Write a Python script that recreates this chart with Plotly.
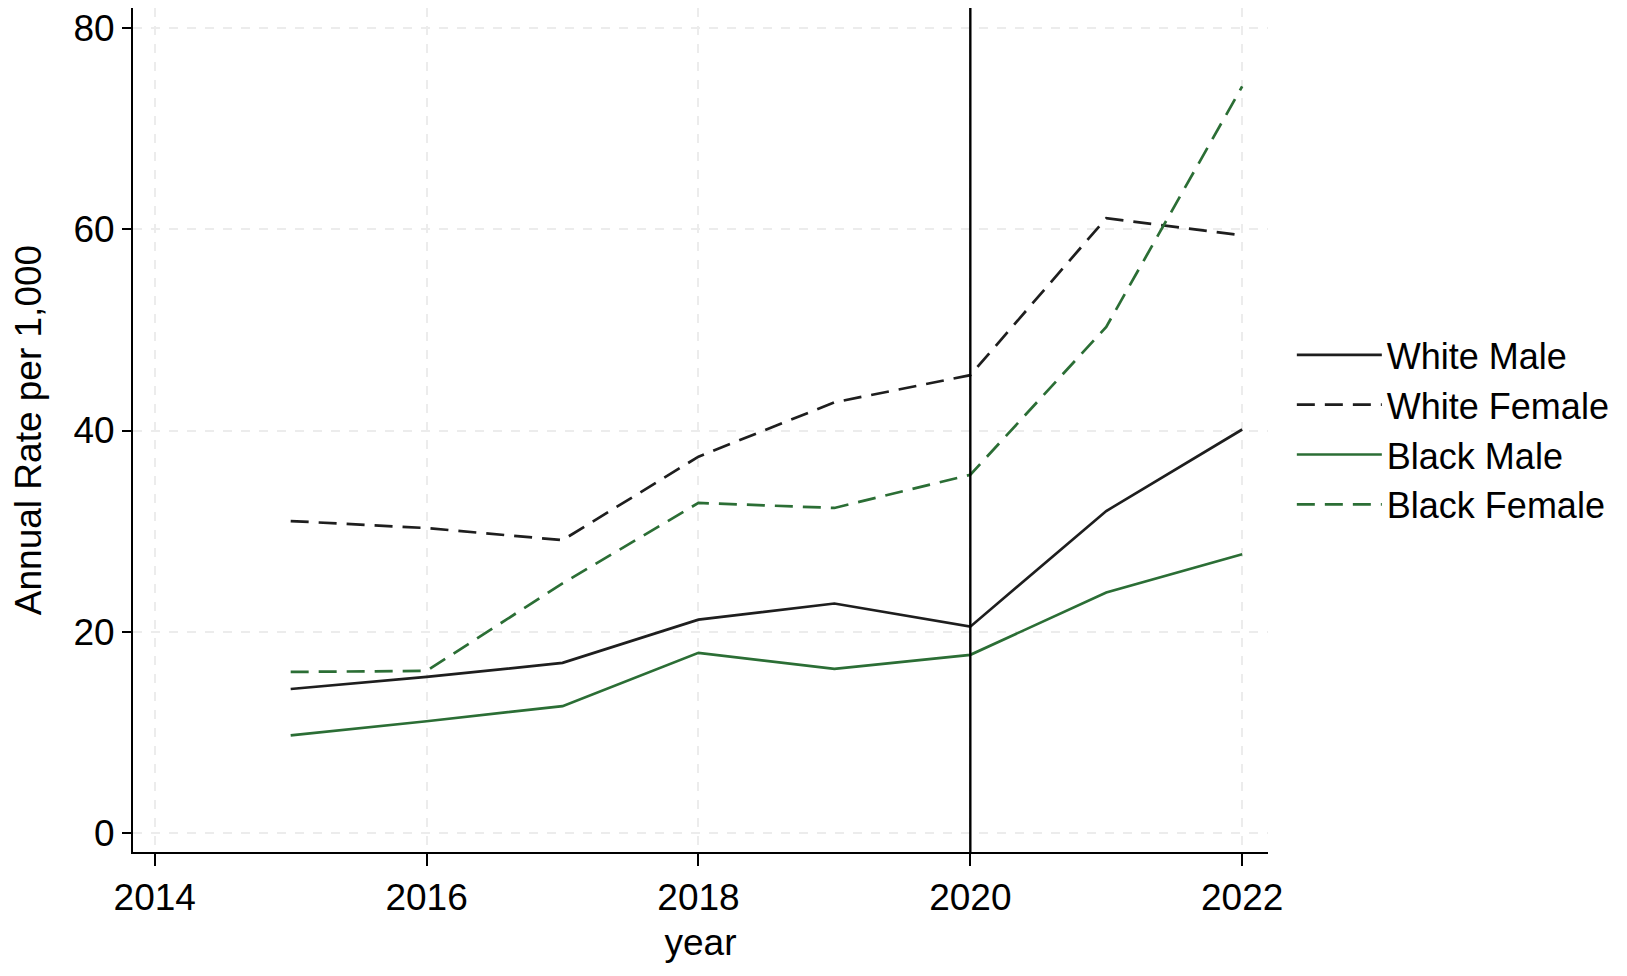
import plotly.graph_objects as go

# data
years = [2015, 2016, 2017, 2018, 2019, 2020, 2021, 2022]

white_male = [14.3, 15.5, 16.9, 21.2, 22.8, 20.5, 32.0, 40.1]
white_female = [31.0, 30.3, 29.1, 37.4, 42.8, 45.5, 61.1, 59.4]
black_male = [9.7, 11.1, 12.6, 17.9, 16.3, 17.7, 23.9, 27.7]
black_female = [16.0, 16.1, 24.8, 32.8, 32.3, 35.6, 50.3, 74.2]

series_names = ["White Male", "White Female", "Black Male", "Black Female"]
x_ticks = [2014, 2016, 2018, 2020, 2022]
y_ticks = [0, 20, 40, 60, 80]
policy_year = 2020

black = "#1e1e1e"
green = "#2b6e35"
styles = [
    dict(color=black, dash="solid"),
    dict(color=black, dash="18px,10px"),
    dict(color=green, dash="solid"),
    dict(color=green, dash="18px,10px"),
]

fig = go.Figure()
for name, vals, st in zip(series_names,
                          [white_male, white_female, black_male, black_female],
                          styles):
    fig.add_trace(go.Scatter(
        x=years, y=vals, name=name, mode="lines",
        line=dict(color=st["color"], dash=st["dash"], width=2.7),
    ))

fig.add_vline(x=policy_year, line=dict(color="black", width=2.4))

axis_common = dict(
    showline=True, linecolor="black", linewidth=2,
    ticks="outside", tickcolor="black", tickwidth=2,
    showgrid=True, gridcolor="#ececec", griddash="dash", gridwidth=1.5,
    zeroline=False,
    tickfont=dict(size=37, color="black"),
)

# page body adds 8px around the figure, so size it a bit smaller
fig.update_layout(
    width=1619, height=968,
    margin=dict(l=125, r=359, t=0, b=124, autoexpand=False),
    paper_bgcolor="white", plot_bgcolor="white",
    font=dict(family="Liberation Sans, Arial, sans-serif", size=37, color="black"),
    xaxis=dict(
        range=[2013.84, 2022.19], tickvals=x_ticks, ticklen=12,
        title=dict(text="year", font=dict(size=37), standoff=12),
        **axis_common
    ),
    yaxis=dict(
        range=[-1.9, 82.0], tickvals=y_ticks, ticklen=9,
        title=dict(text="Annual Rate per 1,000", font=dict(size=37), standoff=28),
        **axis_common
    ),
    legend=dict(
        x=1.021, y=0.5, xanchor="left", yanchor="middle",
        font=dict(size=36, color="black"),
        bgcolor="rgba(0,0,0,0)", itemwidth=85,
    ),
    showlegend=True,
)

fig.write_html("out.html")
